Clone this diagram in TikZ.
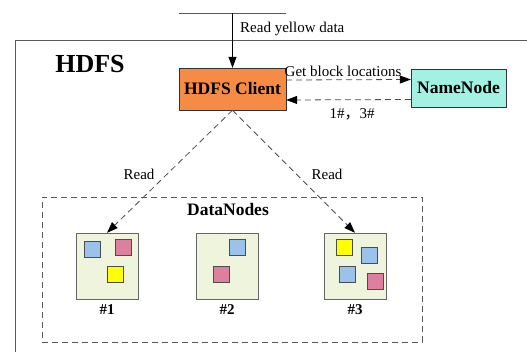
\documentclass[tikz,border=0pt]{standalone}
\usepackage{fontspec}
\setmainfont{Liberation Serif}
\newfontfamily\cjk{Noto Sans CJK SC}
\usetikzlibrary{arrows.meta}

\definecolor{clientorange}{HTML}{F68B45}
\definecolor{namecyan}{HTML}{A3F1E3}
\definecolor{dngreen}{HTML}{EEF5DC}
\definecolor{blkblue}{HTML}{9BC2EA}
\definecolor{blkpink}{HTML}{DD7F9E}
\definecolor{blkyellow}{HTML}{FFFF00}

\tikzset{
  txt/.style={font=\fontsize{15}{17}\selectfont, inner sep=0pt},
  bigtxt/.style={font=\fontsize{17.5}{20}\selectfont\bfseries, inner sep=0pt},
  dnbox/.style={draw=gray!80!black, fill=dngreen, minimum width=62pt, minimum height=66pt, inner sep=0pt},
  blk/.style={draw=gray!60!black, minimum size=16pt, inner sep=0pt},
  arrowtip/.style={-{Triangle[length=11pt,width=8pt,color=black]}},
  dashline/.style={draw=gray!60!black, dash pattern=on 6pt off 4pt, thick},
}

\begin{document}
\begin{tikzpicture}[x=1pt, y=-1pt]
\clip (0,0) rectangle (527,351);
\draw[gray!70!black, thick] (15,40) rectangle (540,370);
\node[font=\fontsize{26}{30}\selectfont\bfseries, inner sep=0pt] (hdfs) at (90,64) {HDFS};
\draw[gray!70!black] (179,13) -- (286,13);
\coordinate (src) at (232.5,13);
\node[txt, anchor=west] (ryd) at (240,29) {Read yellow data};
\node[draw=gray!40!black, fill=clientorange, minimum width=107pt, minimum height=42pt, inner sep=0pt, bigtxt] (client) at (232.5,89) {HDFS Client};
\node[draw=gray!40!black, fill=namecyan, minimum width=95pt, minimum height=38pt, inner sep=0pt, bigtxt] (name) at (458.5,88) {NameNode};
\node[txt] (gbl) at (343,71) {Get block locations};
\node[txt] (ret) at (352,114) {1\#{\cjk ，}3\#};
\node[draw=gray!70!black, dash pattern=on 6pt off 4pt, minimum width=380pt, minimum height=145pt] (dns) at (232,269.5) {};
\node[bigtxt] (dnt) at (228,210) {DataNodes};
\node[dnbox, label={[txt, font=\fontsize{15}{17}\selectfont\bfseries, yshift=-5pt]below:\#1}] (dn1) at (107,266) {};
\node[dnbox, label={[txt, font=\fontsize{15}{17}\selectfont\bfseries, yshift=-5pt]below:\#2}] (dn2) at (227,266) {};
\node[dnbox, label={[txt, font=\fontsize{15}{17}\selectfont\bfseries, yshift=-5pt]below:\#3}] (dn3) at (355,266) {};
% blocks
\node[blk, fill=blkblue] (b11) at (92,249) {};
\node[blk, fill=blkpink] (b12) at (123,247) {};
\node[blk, fill=blkyellow] (b13) at (115.5,274) {};
\node[blk, fill=blkblue] (b21) at (237,247) {};
\node[blk, fill=blkpink] (b22) at (221,274) {};
\node[blk, fill=blkyellow] (b31) at (344,247) {};
\node[blk, fill=blkblue] (b32) at (369.5,255) {};
\node[blk, fill=blkblue] (b33) at (347,274) {};
\node[blk, fill=blkpink] (b34) at (375.5,281.5) {};
\node[txt] (rd1) at (139,174) {Read};
\node[txt] (rd3) at (327,174) {Read};
\draw[arrowtip, thick] (src) -- (client);
\draw[arrowtip, dashline] ([yshift=9pt]client.east) -- ([yshift=8.5pt]name.west);
\draw[arrowtip, dashline] ([yshift=-11.5pt]name.west) -- ([yshift=-11pt]client.east);
\draw[arrowtip, dashline] (client.south) -- (dn1.north);
\draw[arrowtip, dashline] (client.south) -- (dn3.north);
\end{tikzpicture}
\end{document}
